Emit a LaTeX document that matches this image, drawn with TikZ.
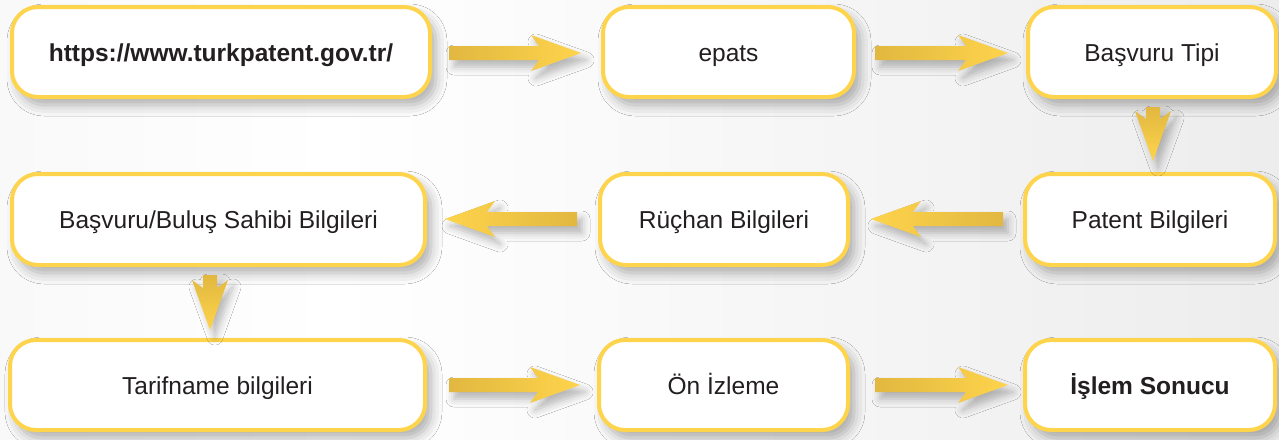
\documentclass[tikz,border=0pt]{standalone}
\usepackage{fontspec}
\setmainfont{Liberation Sans}
\usetikzlibrary{calc,shadows.blur}
\definecolor{ybord}{HTML}{FED44C}
\definecolor{ydark}{HTML}{D8AE3C}
\definecolor{ytxt}{HTML}{231F20}
\pgfdeclarehorizontalshading{bgshade}{100bp}{color(0bp)=(black!7); color(38bp)=(white); color(100bp)=(black!12)}
\newcommand\yarr[2]{%
  \path let \p1=(#1), \p2=(#2) in \pgfextra{%
    \pgfmathsetmacro\arlen{veclen(\x2-\x1,\y2-\y1)}%
    \pgfmathsetmacro\arang{atan2(\y2-\y1,\x2-\x1)}%
    \pgfmathsetmacro\arshang{90+\arang}%
    \global\let\arlen\arlen \global\let\arang\arang \global\let\arshang\arshang};
  \begin{scope}[shift={(#1)}, rotate=\arang]
    \path[yarrow, shading angle=\arshang] (0,-7) -- ({\arlen-42},-7) -- ({\arlen-50},-18) -- ({\arlen},0)
      -- ({\arlen-50},18) -- ({\arlen-42},7) -- (0,7) -- cycle;
  \end{scope}}
\begin{document}
\begin{tikzpicture}[x=1pt,y=-1pt,
  box/.style={draw=ybord, line width=4pt, fill=white, rounded corners=26pt,
    text=ytxt, font=\fontsize{24.5}{28}\selectfont, inner sep=0pt,
    text height=21pt, text depth=3pt,
    blur shadow={shadow xshift=6pt, shadow yshift=-8pt, shadow blur radius=11pt, shadow opacity=32}},
  yarrow/.style={shading=axis, top color=ydark!75!ybord, middle color=ybord, bottom color=ybord, draw=none,
    blur shadow={shadow xshift=5pt, shadow yshift=-7pt, shadow blur radius=8pt, shadow opacity=28}}]
\shade[shading=bgshade] (0,0) rectangle (1279,439);
\useasboundingbox (0,0) rectangle (1279,439);

\node[box, minimum width=418, minimum height=90] (b1) at (221,52) {\textbf{https://www.turkpatent.gov.tr/}};
\node[box, minimum width=251, minimum height=90] (b2) at (728.5,52) {epats};
\node[box, minimum width=248, minimum height=90] (b3) at (1152,52) {Başvuru Tipi};
\node[box, minimum width=413, minimum height=91] (b4) at (218.5,219.5) {Başvuru/Buluş Sahibi Bilgileri};
\node[box, minimum width=248, minimum height=91] (b5) at (724,219.5) {Rüçhan Bilgileri};
\node[box, minimum width=250, minimum height=91] (b6) at (1150,219.5) {Patent Bilgileri};
\node[box, minimum width=415, minimum height=90] (b7) at (217.5,385) {Tarifname bilgileri};
\node[box, minimum width=249, minimum height=90] (b8) at (723.5,385) {Ön İzleme};
\node[box, minimum width=250, minimum height=90] (b9) at (1150,385) {\textbf{İşlem Sonucu}};

\yarr{$(b1.east)+(17,1)$}{$(b2.west)+(-20,1)$}
\yarr{$(b2.east)+(19,1)$}{$(b3.west)+(-18,1)$}
\yarr{$(b3.south)+(1,8)$}{$(b6.north)+(3,-11)$}
\yarr{$(b6.west)+(-20,-0.5)$}{$(b5.east)+(21,-0.5)$}
\yarr{$(b5.west)+(-21,-0.5)$}{$(b4.east)+(18,-0.5)$}
\yarr{$(b4.south)+(-8.5,8)$}{$(b7.north)+(-7.5,-8)$}
\yarr{$(b7.east)+(22,0)$}{$(b8.west)+(-17,0)$}
\yarr{$(b8.east)+(25,0)$}{$(b9.west)+(-15,0)$}
\end{tikzpicture}
\end{document}
